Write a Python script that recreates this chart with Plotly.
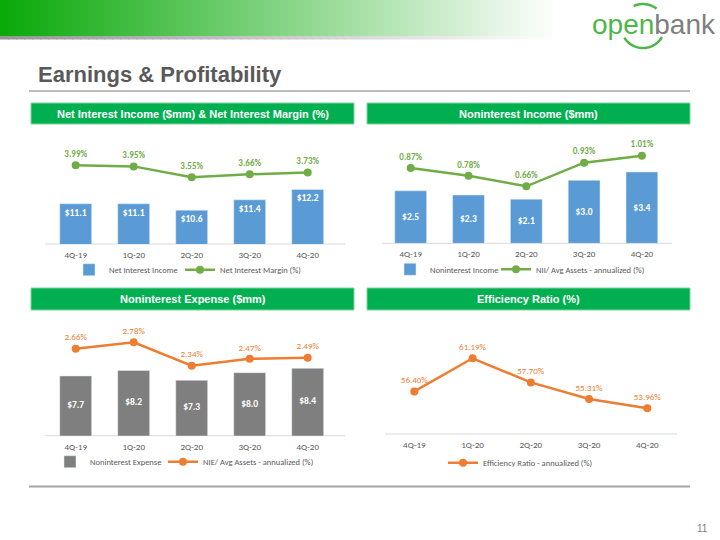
import math
import plotly.graph_objects as go

# ---------------- data ----------------
quarters = ["4Q-19", "1Q-20", "2Q-20", "3Q-20", "4Q-20"]
net_interest_income = [11.1, 11.1, 10.6, 11.4, 12.2]
net_interest_margin = [3.99, 3.95, 3.55, 3.66, 3.73]
noninterest_income = [2.5, 2.3, 2.1, 3.0, 3.4]
nii_avg_assets = [0.87, 0.78, 0.66, 0.93, 1.01]
noninterest_expense = [7.7, 8.2, 7.3, 8.0, 8.4]
nie_avg_assets = [2.66, 2.78, 2.34, 2.47, 2.49]
efficiency_ratio = [56.40, 61.19, 57.70, 55.31, 53.96]

W, H = 720, 540


def X(px):
    return px / W


def Y(py):
    return 1 - py / H


GREEN_HDR = "#00B050"
LINE_GREEN = "#70AD47"
BLUE = "#5B9BD5"
GREY_BAR = "#7F7F7F"
ORANGE = "#ED7D31"
TXT = "#595959"
CH_FONT = "Carlito, 'Liberation Sans Narrow', Lato, sans-serif"
HDR_FONT = "'Liberation Sans', Arial, sans-serif"
BAR_LABEL_FONT = dict(color="white", size=9.5, family=CH_FONT, weight="bold")

fig = go.Figure()


def bar_trace(values, name, color, xa, ya, anchor, leg, show_text=True):
    return go.Bar(x=quarters, y=values, name=name, marker_color=color, width=0.55,
                  xaxis=xa, yaxis=ya, texttemplate="$%{y:.1f}" if show_text else None,
                  textposition="inside" if show_text else "none",
                  insidetextanchor=anchor, textfont=BAR_LABEL_FONT, legend=leg)


def line_trace(values, name, color, xa, ya, leg, bold):
    return go.Scatter(x=quarters, y=values, name=name, mode="lines+markers+text",
                      line=dict(color=color, width=2.5), marker=dict(color=color, size=8),
                      texttemplate="%{y:.2f}%", textposition="top center",
                      textfont=dict(color=color, size=9, family=CH_FONT,
                                    weight="bold" if bold else "normal"),
                      cliponaxis=False, xaxis=xa, yaxis=ya, legend=leg)


Y5_RANGE = [2.22, 12.83]

# panel 1
fig.add_trace(bar_trace(net_interest_income, "Net Interest Income", BLUE, "x", "y", "end", "legend"))
fig.add_trace(line_trace(net_interest_margin, "Net Interest Margin (%)", LINE_GREEN, "x", "y2", "legend2", True))
# panel 2
fig.add_trace(bar_trace(noninterest_income, "Noninterest Income", BLUE, "x2", "y3", "middle", "legend3"))
fig.add_trace(line_trace(nii_avg_assets, "NII/ Avg Assets - annualized (%)", LINE_GREEN, "x2", "y4", "legend4", True))
# panel 3 (bar labels centred on the visible part of each bar)
fig.add_trace(bar_trace(noninterest_expense, "Noninterest Expense", GREY_BAR, "x3", "y5", "middle", "legend5",
                        show_text=False))
fig.add_trace(go.Scatter(x=quarters, y=[(Y5_RANGE[0] + v) / 2 for v in noninterest_expense],
                         customdata=noninterest_expense, mode="text", texttemplate="$%{customdata:.1f}",
                         textfont=BAR_LABEL_FONT, showlegend=False, hoverinfo="skip",
                         xaxis="x3", yaxis="y5"))
fig.add_trace(line_trace(nie_avg_assets, "NIE/ Avg Assets - annualized (%)", ORANGE, "x3", "y6", "legend6", False))
# panel 4
fig.add_trace(line_trace(efficiency_ratio, "Efficiency Ratio - annualized (%)", ORANGE, "x4", "y7", "legend7", False))

xa = dict(type="category", range=[-0.5, 4.5], showgrid=False, zeroline=False, showline=False,
          ticks="", tickfont=dict(size=9, color=TXT, family=CH_FONT), ticklabelstandoff=4,
          fixedrange=True)
ya = dict(showgrid=False, zeroline=False, showline=False, showticklabels=False, fixedrange=True)

fig.update_layout(
    width=W, height=H, margin=dict(l=0, r=0, t=0, b=0),
    paper_bgcolor="white", plot_bgcolor="rgba(0,0,0,0)",
    barmode="overlay",
    xaxis=dict(xa, domain=[X(46.7), X(336.7)], anchor="y"),
    yaxis=dict(ya, domain=[Y(244), Y(130)], range=[8, 16.77], anchor="x"),
    yaxis2=dict(ya, domain=[Y(244), Y(130)], range=[1.107, 5.283], overlaying="y", anchor="x"),
    xaxis2=dict(xa, domain=[X(381.8), X(670.8)], anchor="y3"),
    yaxis3=dict(ya, domain=[Y(243.3), Y(130)], range=[0, 5.395], anchor="x2"),
    yaxis4=dict(ya, domain=[Y(243.3), Y(130)], range=[0.0077, 1.304], overlaying="y3", anchor="x2"),
    xaxis3=dict(xa, domain=[X(46.7), X(336.7)], anchor="y5"),
    yaxis5=dict(ya, domain=[Y(435.7), Y(320)], range=Y5_RANGE, anchor="x3"),
    yaxis6=dict(ya, domain=[Y(435.7), Y(320)], range=[1.024, 3.199], overlaying="y5", anchor="x3"),
    xaxis4=dict(xa, domain=[X(385.2), X(676.4)], anchor="y7"),
    yaxis7=dict(ya, domain=[Y(434), Y(320)], range=[50.25, 66.72], anchor="x4"),
    showlegend=True,
)

leg = dict(orientation="h", font=dict(size=8.5, color=TXT, family=CH_FONT), bgcolor="rgba(0,0,0,0)",
           itemwidth=30, yanchor="middle", xanchor="left",
           itemclick=False, itemdoubleclick=False)
legend_pos = {
    "legend": (69, 269.7), "legend2": (180, 269.7),
    "legend3": (390, 269.3), "legend4": (496, 269.3),
    "legend5": (50, 461.7), "legend6": (163, 461.7),
    "legend7": (443, 462.7),
}
fig.update_layout({k: dict(leg, x=X(px), y=Y(py)) for k, (px, py) in legend_pos.items()})

shapes = []
annotations = []

# header gradient band
N = 70
band_w = 560
for i in range(N):
    t = i / (N - 1)
    r = int(10 + (255 - 10) * t)
    g = int(170 + (255 - 170) * t)
    b = int(10 + (255 - 10) * t)
    x0 = band_w * i / N
    x1 = band_w * (i + 1) / N + 0.8
    shapes.append(dict(type="rect", xref="paper", yref="paper", x0=X(x0), x1=X(x1),
                       y0=Y(36), y1=Y(0), fillcolor=f"rgb({r},{g},{b})", line_width=0, layer="below"))
    gr = int(150 + (255 - 150) * t)
    shapes.append(dict(type="rect", xref="paper", yref="paper", x0=X(x0), x1=X(x1),
                       y0=Y(39.5), y1=Y(36), fillcolor=f"rgb({gr},{gr},{gr})", line_width=0, layer="below"))


# logo swoosh
def arc_path(cx, cy, r, a0, a1, n=24):
    pts = []
    for k in range(n + 1):
        a = math.radians(a0 + (a1 - a0) * k / n)
        px = cx + r * math.cos(a)
        py = cy - r * math.sin(a)
        pts.append(f"{X(px):.5f},{Y(py):.5f}")
    return "M" + " L".join(pts)


LOGO_GREEN = "#4CB748"
shapes.append(dict(type="path", xref="paper", yref="paper", path=arc_path(643, 26, 22, 115, 52),
                   line=dict(color=LOGO_GREEN, width=2.5)))
shapes.append(dict(type="path", xref="paper", yref="paper", path=arc_path(643, 26, 22, 212, 330),
                   line=dict(color=LOGO_GREEN, width=2.5)))
annotations.append(dict(xref="paper", yref="paper", x=X(590), y=Y(25), xanchor="left", yanchor="middle",
                        showarrow=False,
                        text="<span style='color:#4CB748'>open</span><span style='color:#7F7F7F'>bank</span>",
                        font=dict(size=28, family=HDR_FONT)))

# title
annotations.append(dict(xref="paper", yref="paper", x=X(36), y=Y(75), xanchor="left", yanchor="middle",
                        showarrow=False, text="Earnings & Profitability",
                        font=dict(size=22, family=HDR_FONT, color=TXT, weight="bold")))
shapes.append(dict(type="line", xref="paper", yref="paper", x0=X(29), x1=X(690), y0=Y(91), y1=Y(91),
                   line=dict(color="#A6A6A6", width=1.5)))
# bottom line
shapes.append(dict(type="line", xref="paper", yref="paper", x0=X(29), x1=X(690), y0=Y(486.5), y1=Y(486.5),
                   line=dict(color="#A6A6A6", width=2)))

# panel headers
headers = [
    ("Net Interest Income ($mm) & Net Interest Margin (%)", 31, 354, 103, 124),
    ("Noninterest Income ($mm)", 367, 690, 103, 124),
    ("Noninterest Expense ($mm)", 31, 354, 288, 310),
    ("Efficiency Ratio (%)", 367, 690, 288, 310),
]
for text, x0, x1, y0, y1 in headers:
    shapes.append(dict(type="rect", xref="paper", yref="paper", x0=X(x0), x1=X(x1), y0=Y(y1), y1=Y(y0),
                       fillcolor=GREEN_HDR, line=dict(color="#7FD39F", width=1)))
    annotations.append(dict(xref="paper", yref="paper", x=X((x0 + x1) / 2), y=Y((y0 + y1) / 2),
                            xanchor="center", yanchor="middle", showarrow=False, text=text,
                            font=dict(size=11, family=HDR_FONT, color="white", weight="bold")))

# category axis baselines
for x0, x1, yb in [(45, 345, 244), (382, 672, 243.3), (45, 345, 435.7), (385, 677, 434)]:
    shapes.append(dict(type="line", xref="paper", yref="paper", x0=X(x0), x1=X(x1), y0=Y(yb), y1=Y(yb),
                       line=dict(color="#D9D9D9", width=1), layer="below"))

# page number
annotations.append(dict(xref="paper", yref="paper", x=X(710), y=Y(528), xanchor="right", yanchor="middle",
                        showarrow=False, text="11", font=dict(size=10, family=HDR_FONT, color="#7F7F7F")))

fig.update_layout(shapes=shapes, annotations=annotations)
fig.write_html("out.html", config={"displayModeBar": False, "staticPlot": False},
               post_script="document.body.style.margin='0';document.body.style.padding='0';")
